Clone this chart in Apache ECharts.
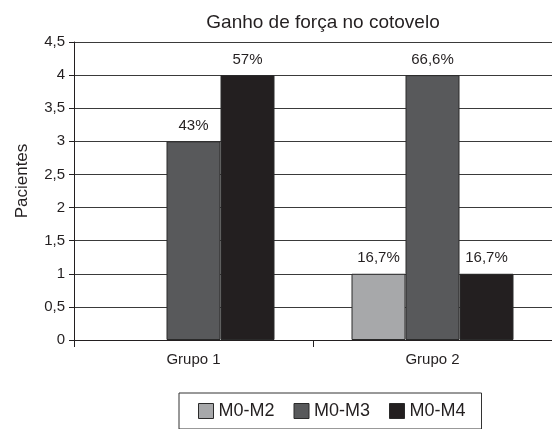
<!DOCTYPE html>
<html>
<head>
<meta charset="utf-8">
<script src="https://cdn.jsdelivr.net/npm/echarts@6/dist/echarts.min.js"></script>
<style>
html,body{margin:0;padding:0;background:#fff;}
#chart{width:552px;height:429px;}
</style>
</head>
<body>
<div id="chart"></div>
<script>
const categories = ['Grupo 1', 'Grupo 2'];
const seriesNames = ['M0-M2', 'M0-M3', 'M0-M4'];
const m0m2 = [null, 1];
const m0m3 = [3, 4];
const m0m4 = [4, 1];
const m0m2Labels = ['', '16,7%'];
const m0m3Labels = ['43%', '66,6%'];
const m0m4Labels = ['57%', '16,7%'];
const yTicks = { min: 0, max: 4.5, interval: 0.5 };

const colors = ['#a7a8aa', '#58595b', '#231f20'];
const textColor = '#231f20';
const font = 'Liberation Sans, Arial, sans-serif';

function mkSeries(name, data, labels, color) {
  return {
    name: name,
    type: 'bar',
    data: data,
    barWidth: 54,
    barGap: '0%',
    itemStyle: { color: color, borderColor: '#2a2a2a', borderWidth: 1 },
    label: {
      show: true,
      position: 'top',
      distance: 8,
      color: textColor,
      fontFamily: font,
      fontSize: 15,
      formatter: function (p) { return labels[p.dataIndex]; }
    }
  };
}

const chart = echarts.init(document.getElementById('chart'));
chart.setOption({
  animation: false,
  backgroundColor: '#fff',
  title: {
    text: 'Ganho de força no cotovelo',
    left: 318,
    textAlign: 'center',
    top: 8,
    textStyle: { color: textColor, fontFamily: font, fontSize: 19, fontWeight: 'normal' }
  },
  grid: { left: 74, right: 0, top: 42, bottom: 89, containLabel: false },
  legend: {
    data: seriesNames,
    bottom: 0,
    left: 179,
    icon: 'rect',
    itemWidth: 15,
    itemHeight: 15,
    itemGap: 19,
    padding: [9, 16, 9, 19],
    borderColor: '#333',
    borderWidth: 1,
    itemStyle: { borderColor: '#2a2a2a', borderWidth: 1 },
    textStyle: { color: textColor, fontFamily: font, fontSize: 18 }
  },
  xAxis: {
    type: 'category',
    data: categories,
    axisLine: { lineStyle: { color: '#231f20', width: 1 } },
    axisTick: { show: true, length: 7, lineStyle: { color: '#231f20' } },
    axisLabel: { color: textColor, fontFamily: font, fontSize: 15, margin: 12 }
  },
  yAxis: {
    type: 'value',
    min: yTicks.min,
    max: yTicks.max,
    interval: yTicks.interval,
    name: 'Pacientes',
    nameLocation: 'middle',
    nameRotate: 90,
    nameGap: 43,
    nameTextStyle: { color: textColor, fontFamily: font, fontSize: 17, padding: [0, 0, 0, 20] },
    axisLine: { show: true, lineStyle: { color: '#231f20', width: 1 } },
    axisTick: { show: true, length: 5, lineStyle: { color: '#231f20' } },
    axisLabel: {
      color: textColor, fontFamily: font, fontSize: 15, margin: 9,
      formatter: function (v) { return String(v).replace('.', ','); }
    },
    splitLine: { show: true, lineStyle: { color: '#3a3a3a', width: 1 } }
  },
  series: [
    mkSeries(seriesNames[0], m0m2, m0m2Labels, colors[0]),
    mkSeries(seriesNames[1], m0m3, m0m3Labels, colors[1]),
    mkSeries(seriesNames[2], m0m4, m0m4Labels, colors[2])
  ]
});
</script>
</body>
</html>
